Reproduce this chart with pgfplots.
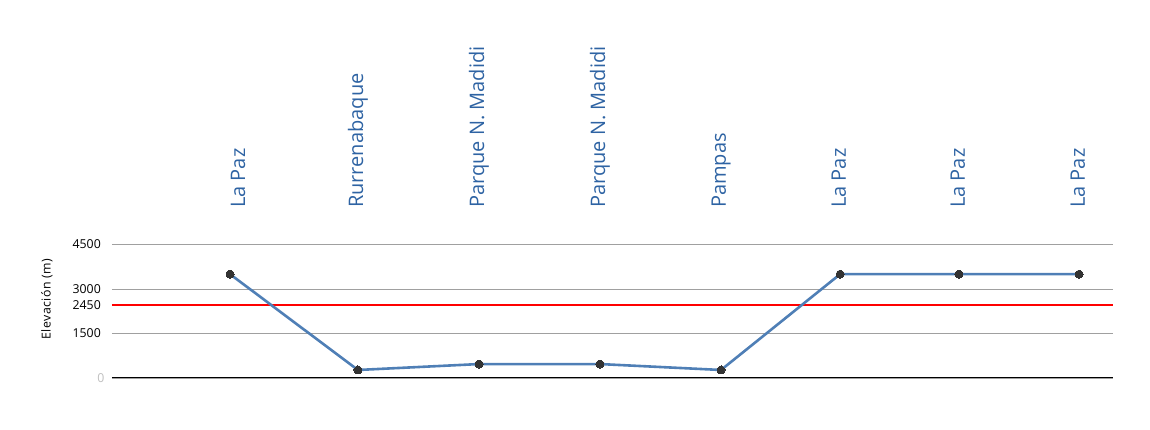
\documentclass[border=0pt]{standalone}
\usepackage{fontspec}
\setmainfont{Open Sans}
\usepackage{pgfplots}
\pgfplotsset{compat=1.18}
\usepackage{pgfplotstable}
\definecolor{lblblue}{RGB}{46,99,163}
\definecolor{lineblue}{RGB}{79,127,182}
\definecolor{mk}{RGB}{51,51,51}
\definecolor{gridgray}{RGB}{160,160,160}
\pgfplotstableread{
x y
1     3500
2.055 270
3.053 470
4.05  470
5.048 270
6.03  3500
7.01  3500
8.0   3500
}\elev
\pgfplotstableread{
x y label
1.066 5730 {La Paz}
2.055 5730 {Rurrenabaque}
3.053 5730 {Parque N. Madidi}
4.05  5730 {Parque N. Madidi}
5.048 5730 {Pampas}
6.02  5730 {La Paz}
7.0   5730 {La Paz}
7.99  5730 {La Paz}
}\names
\begin{document}
\begin{tikzpicture}[x=1pt,y=1pt]
\path[use as bounding box] (-112,-52) rectangle (1038,378);
\begin{axis}[
  at={(0,0)}, anchor=south west,
  scale only axis, width=1001pt, height=133.5pt,
  xmin=0.027, xmax=8.28, ymin=0, ymax=4500,
  clip=false,
  axis line style={draw=none},
  xtick=\empty,
  ytick={0,1500,3000,4500},
  yticklabels={\makebox[0pt][l]{\hspace{-3pt}\textcolor{gray!50}{0}},1500,3000,4500},
  extra y ticks={2450},
  extra y tick labels={2450},
  extra y tick style={grid style={red, line width=2.2pt}},
  ymajorgrids,
  grid style={gridgray, line width=0.9pt},
  major tick length=0pt,
  /pgf/number format/assume math mode=true,
  yticklabel style={font=\fontsize{12.3}{12}\selectfont, inner sep=0pt, xshift=-11pt, text=black},
  ylabel={\addfontfeature{LetterSpace=4}Elevación (m)},
  y label style={at={(rel axis cs:-0.065,0.59)}, anchor=center, font=\fontsize{12.3}{12}\selectfont},
]
\draw[black, line width=1pt] (rel axis cs:0,0) -- (rel axis cs:1,0);
\addplot[lineblue, line width=2.6pt, mark=*, mark size=4pt,
  mark options={fill=mk, draw=mk, line width=0pt}] table[x=x,y=y] {\elev};
\addplot[draw=none, mark=none, nodes near coords, point meta=explicit symbolic,
  nodes near coords style={rotate=90, anchor=west, inner sep=0pt, text=lblblue,
  font=\fontsize{20}{20}\selectfont}] table[x=x,y=y,meta=label] {\names};
\end{axis}
\end{tikzpicture}
\end{document}
